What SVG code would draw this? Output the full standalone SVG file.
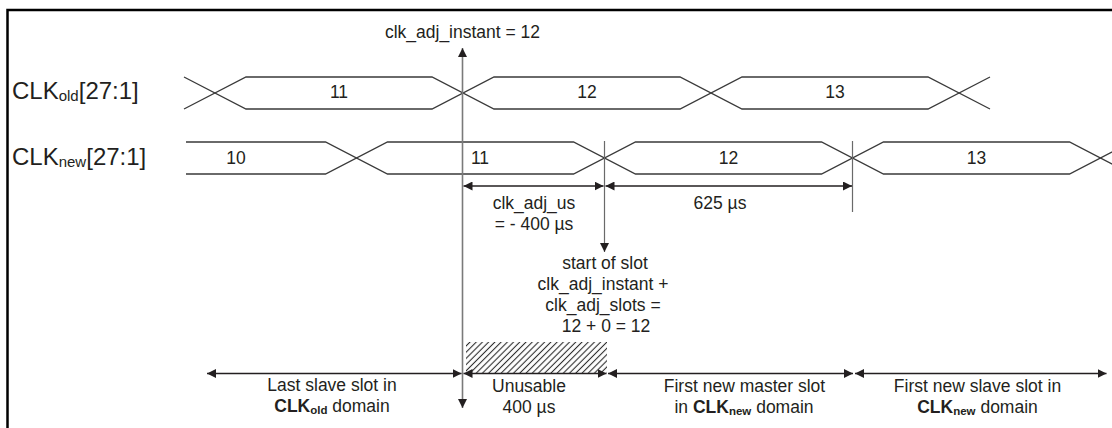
<svg xmlns="http://www.w3.org/2000/svg" width="1112" height="428" viewBox="0 0 1112 428">
<defs>
<style>
text{font-family:"Liberation Sans",Arial,sans-serif;font-size:17.5px;fill:#231f20}
.c{text-anchor:middle}
.sig{fill:none;stroke:#3a3a3a;stroke-width:1.3}
.tick{fill:none;stroke:#6a6a6a;stroke-width:1.2}
.main{fill:none;stroke:#7a7a7a;stroke-width:1.6}
.dim{fill:none;stroke:#231f20;stroke-width:1.3}
.lbl{font-size:24px}
.b{font-weight:bold}
</style>
<marker id="ah" viewBox="0 0 10 10" refX="10" refY="5" markerWidth="9" markerHeight="9" markerUnits="userSpaceOnUse" orient="auto-start-reverse">
<path d="M0,0 L10,5 L0,10 z" fill="#231f20"/>
</marker>
<pattern id="hatch" width="4.4" height="4.4" patternUnits="userSpaceOnUse" patternTransform="rotate(45)">
<line x1="2.2" y1="-1" x2="2.2" y2="6" stroke="#2a2a2a" stroke-width="1.1"/>
</pattern>
</defs>
<rect x="0" y="0" width="1112" height="428" fill="#fff"/>
<g id="frame">
<path d="M1112,10 H7.5 V428" fill="none" stroke="#000" stroke-width="2.5"/>
</g>
<g id="signal-labels">
<text class="lbl" x="12" y="99">CLK<tspan font-size="15" dy="2">old</tspan><tspan dy="-2">[27:1]</tspan></text>
<text class="lbl" x="12" y="165">CLK<tspan font-size="15" dy="2">new</tspan><tspan dy="-2">[27:1]</tspan></text>
</g>
<g id="clk-old">
<path class="sig" d="M184,77 L246,109 L432,109 L494,77 L680,77 L742,109 L928,109 L990,77"/>
<path class="sig" d="M184,109 L246,77 L432,77 L494,109 L680,109 L742,77 L928,77 L990,109"/>
<text class="c" x="339" y="98">11</text>
<text class="c" x="587" y="98">12</text>
<text class="c" x="835" y="98">13</text>
</g>
<g id="clk-new">
<path class="sig" d="M186,142 L325.5,142 L387.5,174 L573.5,174 L635.5,142 L821.5,142 L883.5,174 L1069.5,174 L1131.5,142"/>
<path class="sig" d="M186,174 L325.5,174 L387.5,142 L573.5,142 L635.5,174 L821.5,174 L883.5,142 L1069.5,142 L1131.5,174"/>
<text class="c" x="236" y="164">10</text>
<text class="c" x="480" y="164">11</text>
<text class="c" x="728.5" y="164">12</text>
<text class="c" x="976.5" y="164">13</text>
</g>
<g id="hatched-region">
<rect x="466" y="342" width="141" height="31" fill="url(#hatch)"/>
</g>
<g id="connectors">
<path class="main" d="M462.5,48 V408" marker-start="url(#ah)" marker-end="url(#ah)"/>
<path class="tick" d="M604.5,141 V252" marker-end="url(#ah)"/>
<path class="tick" d="M852.5,141 V212"/>
<path class="dim" d="M463.5,186 H603.5" marker-start="url(#ah)" marker-end="url(#ah)"/>
<path class="dim" d="M605.5,186 H852" marker-start="url(#ah)" marker-end="url(#ah)"/>
<path class="dim" d="M207,373.5 H461.5" marker-start="url(#ah)" marker-end="url(#ah)"/>
<path class="dim" d="M463.5,373.5 H606.5" marker-start="url(#ah)" marker-end="url(#ah)"/>
<path class="dim" d="M608,373.5 H853" marker-start="url(#ah)" marker-end="url(#ah)"/>
<path class="dim" d="M855,373.5 H1106.5" marker-start="url(#ah)" marker-end="url(#ah)"/>
</g>
<g id="annotations">
<text class="c" x="462.5" y="38">clk_adj_instant = 12</text>
<text class="c" x="534" y="209">clk_adj_us</text>
<text class="c" x="534" y="230">= - 400 µs</text>
<text class="c" x="720" y="209">625 µs</text>
<text class="c" x="605" y="269">start of slot</text>
<text class="c" x="603" y="290">clk_adj_instant +</text>
<text class="c" x="603" y="311">clk_adj_slots =</text>
<text class="c" x="606" y="332">12 + 0 = 12</text>
</g>
<g id="bottom-labels">
<text class="c" x="332" y="391">Last slave slot in</text>
<text class="c" x="332" y="412"><tspan class="b">CLK</tspan><tspan class="b" font-size="11.5" dy="2">old</tspan><tspan dy="-2"> domain</tspan></text>
<text class="c" x="529" y="392">Unusable</text>
<text class="c" x="529" y="413">400 µs</text>
<text class="c" x="744.5" y="392">First new master slot</text>
<text class="c" x="744" y="413">in <tspan class="b">CLK</tspan><tspan class="b" font-size="11.5" dy="2">new</tspan><tspan dy="-2"> domain</tspan></text>
<text class="c" x="977.5" y="392">First new slave slot in</text>
<text class="c" x="977.5" y="413"><tspan class="b">CLK</tspan><tspan class="b" font-size="11.5" dy="2">new</tspan><tspan dy="-2"> domain</tspan></text>
</g>
</svg>
